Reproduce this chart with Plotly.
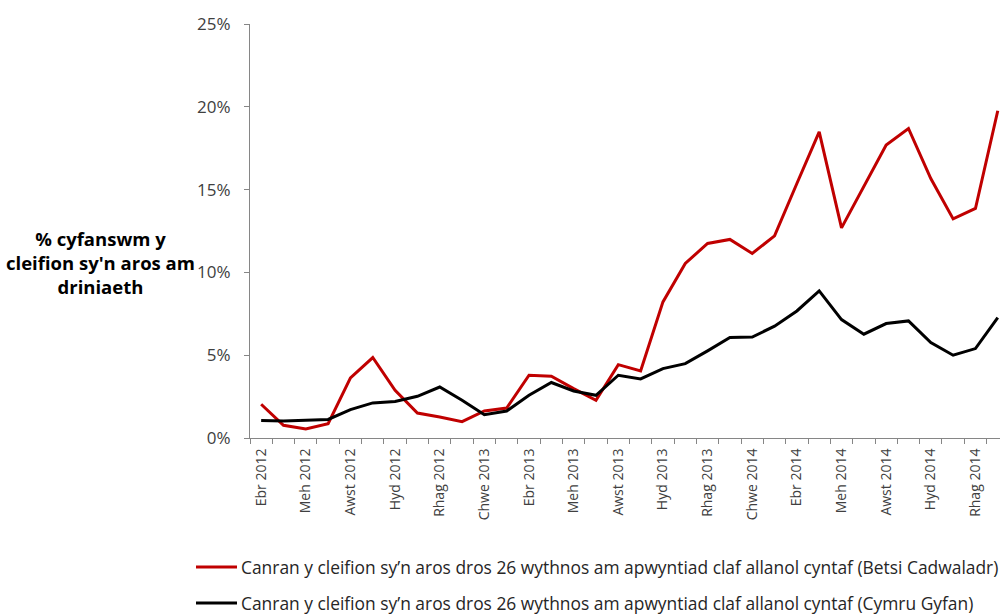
import plotly.graph_objects as go

months = ["Ebr 2012", "Mai 2012", "Meh 2012", "Gorff 2012", "Awst 2012", "Medi 2012",
          "Hyd 2012", "Tach 2012", "Rhag 2012", "Ion 2013", "Chwe 2013", "Maw 2013",
          "Ebr 2013", "Mai 2013", "Meh 2013", "Gorff 2013", "Awst 2013", "Medi 2013",
          "Hyd 2013", "Tach 2013", "Rhag 2013", "Ion 2014", "Chwe 2014", "Maw 2014",
          "Ebr 2014", "Mai 2014", "Meh 2014", "Gorff 2014", "Awst 2014", "Medi 2014",
          "Hyd 2014", "Tach 2014", "Rhag 2014", "Ion 2015"]

betsi = [2.04, 0.77, 0.54, 0.87, 3.63, 4.86, 2.88, 1.51, 1.27, 0.99, 1.63, 1.81,
         3.79, 3.73, 2.98, 2.28, 4.43, 4.05, 8.22, 10.54, 11.75, 11.99, 11.14, 12.21,
         15.37, 18.49, 12.69, 15.17, 17.69, 18.69, 15.67, 13.23, 13.86, 19.76]

cymru = [1.05, 1.02, 1.07, 1.12, 1.71, 2.12, 2.20, 2.52, 3.08, 2.28, 1.41, 1.63,
         2.58, 3.35, 2.84, 2.58, 3.79, 3.57, 4.19, 4.49, 5.26, 6.07, 6.10, 6.75,
         7.67, 8.88, 7.15, 6.27, 6.91, 7.07, 5.76, 5.00, 5.40, 7.27]

series_names = [
    "Canran y cleifion sy’n aros dros 26 wythnos am apwyntiad claf allanol cyntaf (Betsi Cadwaladr)",
    "Canran y cleifion sy’n aros dros 26 wythnos am apwyntiad claf allanol cyntaf (Cymru Gyfan)",
]
series_values = [betsi, cymru]
series_colors = ["#C00000", "#000000"]

y_ticks = [0, 5, 10, 15, 20, 25]
y_ticktext = ["0%", "5%", "10%", "15%", "20%", "25%"]

y_title = "% cyfanswm y<br>cleifion sy'n aros am<br>driniaeth"

idx = list(range(len(months)))

# layout geometry (pixels)
W, H = 1000, 614
M_L, M_R, M_T, M_B = 250, 0, 24, 176
plot_w = W - M_L - M_R
plot_h = H - M_T - M_B
bottom_px = H - M_B


def px_x(px):
    return (px - M_L) / plot_w


def px_y(py):
    return (bottom_px - py) / plot_h


fig = go.Figure()
for name, vals, col in zip(series_names, series_values, series_colors):
    fig.add_trace(go.Scatter(x=idx, y=vals, mode="lines", name=name,
                             line=dict(color=col, width=3), showlegend=False))

font_ticks = "Open Sans"
fig.update_layout(
    width=W, height=H,
    margin=dict(l=M_L, r=M_R, t=M_T, b=M_B),
    plot_bgcolor="white", paper_bgcolor="white",
    showlegend=False,
)

fig.update_xaxes(
    range=[-0.5, 33.1],
    tickmode="array", tickvals=idx[::2], ticktext=months[::2],
    tickangle=-90, ticks="", showgrid=False, zeroline=False,
    showline=True, linecolor="#868686", linewidth=1,
    tickfont=dict(family=font_ticks, size=14, color="#404040"),
    ticklabelstandoff=4,
    minor=dict(tickmode="linear", tick0=-0.5, dtick=1, ticks="outside",
               ticklen=5, tickcolor="#868686", tickwidth=1, showgrid=False),
)
fig.update_yaxes(
    range=[0, 25],
    tickmode="array", tickvals=y_ticks, ticktext=y_ticktext,
    ticks="outside", ticklen=5, tickcolor="#868686",
    showgrid=False, zeroline=False,
    showline=True, linecolor="#868686", linewidth=1,
    tickfont=dict(family=font_ticks, size=17, color="#404040"),
    ticklabelstandoff=10,
)

fig.add_annotation(text="<b>" + y_title + "</b>", xref="paper", yref="paper",
                   x=px_x(100), y=px_y(262),
                   xanchor="center", yanchor="middle", showarrow=False, align="center",
                   font=dict(family=font_ticks, size=18.5, color="#000000"))

# legend (key line + label) below the chart
legend_rows_px = [567, 603]
for name, col, ry in zip(series_names, series_colors, legend_rows_px):
    fig.add_shape(type="line", xref="paper", yref="paper",
                  x0=px_x(196), x1=px_x(237), y0=px_y(ry), y1=px_y(ry),
                  line=dict(color=col, width=3))
    fig.add_annotation(text=name, xref="paper", yref="paper",
                       x=px_x(239), y=px_y(ry), xanchor="left", yanchor="middle",
                       showarrow=False,
                       font=dict(family=font_ticks, size=17.4, color="#262626"))

fig.write_html("out.html", config={"displayModeBar": False},
               post_script="document.body.style.margin='0px';")
